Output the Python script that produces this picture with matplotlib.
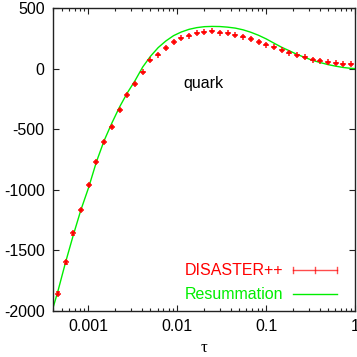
import matplotlib
matplotlib.use("Agg")
import matplotlib.pyplot as plt
from matplotlib.ticker import FixedLocator, FixedFormatter, LogLocator, NullFormatter

plt.rcParams["axes.unicode_minus"] = False

# bin centres in tau
tau = [0.000453, 0.000553, 0.000676, 0.000825, 0.001008, 0.001231, 0.001503,
       0.001836, 0.002243, 0.002739, 0.003346, 0.004087, 0.004992, 0.006097,
       0.007447, 0.009095, 0.011109, 0.013569, 0.016573, 0.020242, 0.024724,
       0.030197, 0.036883, 0.045049, 0.055023, 0.067206, 0.082085, 0.100259,
       0.122456, 0.149569, 0.182684, 0.223130, 0.272532, 0.332871, 0.406570,
       0.496585, 0.606531, 0.740818, 0.904837]

# DISASTER++ values and errors
disaster = [-1856, -1598, -1360, -1169, -960, -770, -608, -479, -340, -218,
            -126, -32, 67, 115, 171, 218, 250, 272, 290, 299,
            308, 296, 290, 276, 262, 244, 220, 196, 178, 153,
            132, 112, 95, 75, 63, 52, 44, 36, 36]
disaster_err = [14, 12, 12, 10, 10, 10, 9, 8, 8, 8,
                7, 7, 6, 6, 6, 6, 5, 5, 5, 5,
                5, 5, 5, 5, 5, 5, 5, 4, 4, 4,
                4, 4, 4, 4, 4, 4, 4, 4, 4]

# resummation curve
tau_res = [0.0004] + tau + [1.0]
resum = [-1975, -1840, -1600, -1375, -1165, -980, -770, -595, -450, -317, -201,
         -100, 13, 101, 173, 228, 272, 302, 324, 338, 346,
         348, 347, 342, 334, 320, 300, 275, 245, 210, 176,
         147, 117, 92, 68, 50, 33, 20, 9, 2, 0]

red = "#ff0000"
green = "#00ee00"
fs = 11.5

fig = plt.figure(figsize=(3.57, 3.57), dpi=100)
ax = fig.add_axes([53 / 357, 46 / 357, 302 / 357, 303 / 357])

ax.plot(tau_res, resum, color=green, lw=1.0, zorder=2)
ax.errorbar(tau, disaster, yerr=disaster_err, fmt="+", color=red, ms=5,
            mew=1.1, elinewidth=1.1, capsize=1.5, alpha=0.95, zorder=3)

ax.set_xscale("log")
ax.set_xlim(0.0004, 1)
ax.set_ylim(-2000, 500)

ax.xaxis.set_major_locator(FixedLocator([0.001, 0.01, 0.1, 1]))
ax.xaxis.set_major_formatter(FixedFormatter(["0.001", "0.01", "0.1", "1"]))
ax.xaxis.set_minor_locator(LogLocator(base=10, subs=range(2, 10)))
ax.xaxis.set_minor_formatter(NullFormatter())
ax.set_yticks(range(-2000, 501, 500))

ax.tick_params(which="both", direction="in", top=True, right=True,
               labelsize=fs, colors="#222222", width=0.8)
ax.tick_params(which="major", length=4.5, pad=6)
ax.tick_params(which="minor", length=2.5)
for s in ax.spines.values():
    s.set_linewidth(1.0)
    s.set_color("#222222")
for lab in ax.get_xticklabels() + ax.get_yticklabels():
    lab.set_family("Liberation Sans")
    lab.set_color("black")

ax.set_xlabel("τ", family="Liberation Serif", fontsize=12, labelpad=4)
ax.text(0.0117, -125, "quark", family="Liberation Sans", fontsize=fs,
        ha="left", va="center")

# gnuplot-style key
ax.text(0.762, 0.134, "DISASTER++", transform=ax.transAxes, color=red,
        family="Liberation Sans", fontsize=fs, ha="right", va="center")
ax.plot([0.795, 0.940], [0.134, 0.134], transform=ax.transAxes, color=red,
        lw=1.0, alpha=0.7)
for xk in (0.795, 0.8675, 0.940):
    ax.plot([xk, xk], [0.124, 0.144], transform=ax.transAxes, color=red,
            lw=1.0, alpha=0.7)
ax.text(0.762, 0.055, "Resummation", transform=ax.transAxes, color=green,
        family="Liberation Sans", fontsize=fs, ha="right", va="center")
ax.plot([0.795, 0.940], [0.055, 0.055], transform=ax.transAxes, color=green,
        lw=1.0)

fig.savefig("out.png", dpi=100)
